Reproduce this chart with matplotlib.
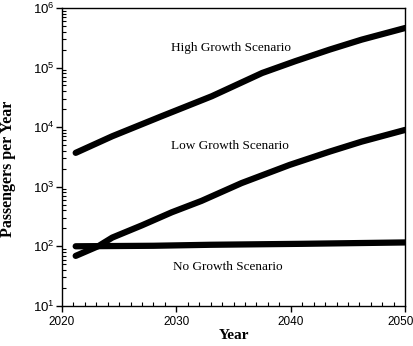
import matplotlib
matplotlib.use("Agg")
import matplotlib.pyplot as plt
import matplotlib.transforms as mtrans
from matplotlib.ticker import LogLocator, MultipleLocator, FixedLocator, FixedFormatter

# ---- data ----
high_years = [2021.2, 2024.4, 2028.7, 2033.1, 2037.5, 2040.4, 2043.4, 2046.2, 2050.0]
high_vals = [3700, 7030, 15200, 33000, 81000, 128000, 200000, 294000, 461000]

low_years = [2021.2, 2023.2, 2024.4, 2027.0, 2029.6, 2032.2, 2035.7, 2039.9, 2043.4, 2046.2, 2050.0]
low_vals = [69, 101, 140, 225, 372, 578, 1150, 2320, 3880, 5710, 8980]

none_years = [2021.2, 2028.0, 2033.0, 2041.0, 2050.0]
none_vals = [100, 102, 106, 110, 116]

labels = ["High Growth Scenario", "Low Growth Scenario", "No Growth Scenario"]
label_x = [2034.8, 2034.7, 2034.5]
label_y = [2.13e5, 4840, 45]

x_ticks = [2020, 2030, 2040, 2050]
y_ticks = [1e1, 1e2, 1e3, 1e4, 1e5, 1e6]
y_ticklabels = [r"$10^{1}$", r"$10^{2}$", r"$10^{3}$", r"$10^{4}$", r"$10^{5}$", r"$10^{6}$"]

plt.rcParams["mathtext.fontset"] = "custom"
plt.rcParams["mathtext.rm"] = "Liberation Sans"
plt.rcParams["mathtext.it"] = "Liberation Sans"

fig = plt.figure(figsize=(4.13, 3.46), dpi=100)
ax = fig.add_axes([0.150, 0.116, 0.831, 0.861])

for xs, ys in [(high_years, high_vals), (low_years, low_vals), (none_years, none_vals)]:
    ax.plot(xs, ys, color="black", lw=4.5, solid_capstyle="round", solid_joinstyle="round")

ax.set_yscale("log")
ax.set_xlim(2020, 2050)
ax.set_ylim(10, 1e6)

ax.xaxis.set_major_locator(FixedLocator(x_ticks))
ax.xaxis.set_minor_locator(MultipleLocator(1))
ax.yaxis.set_major_locator(FixedLocator(y_ticks))
ax.yaxis.set_major_formatter(FixedFormatter(y_ticklabels))
ax.yaxis.set_minor_locator(LogLocator(base=10, subs=range(2, 10), numticks=20))

ax.tick_params(which="major", direction="out", length=4, width=1,
               top=False, right=False)
ax.tick_params(axis="x", which="major", labelsize=8.5, pad=3)
ax.tick_params(axis="y", which="major", labelsize=9.5, pad=1)
ax.tick_params(which="minor", direction="in", length=3, width=0.8,
               top=False, right=False)

for sp in ax.spines.values():
    sp.set_linewidth(1)

for t, x, y in zip(labels, label_x, label_y):
    ax.text(x, y, t, ha="center", va="center", fontsize=9.5, family="Liberation Serif")

ax.set_xlabel("Year", fontsize=11, fontweight="bold", family="Liberation Serif", labelpad=1)
ax.set_ylabel("Passengers per Year", fontsize=11.5, fontweight="bold", family="Liberation Serif", labelpad=4)
ax.yaxis.set_label_coords(-0.135, 0.46)

fig.canvas.draw()
for lab in ax.get_xticklabels():
    lab.set_fontfamily("Liberation Sans")
last = ax.xaxis.get_major_ticks()[-1].label1
last.set_transform(last.get_transform() + mtrans.ScaledTranslation(-5 / 100, 0, fig.dpi_scale_trans))

fig.savefig("out.png", dpi=100)
